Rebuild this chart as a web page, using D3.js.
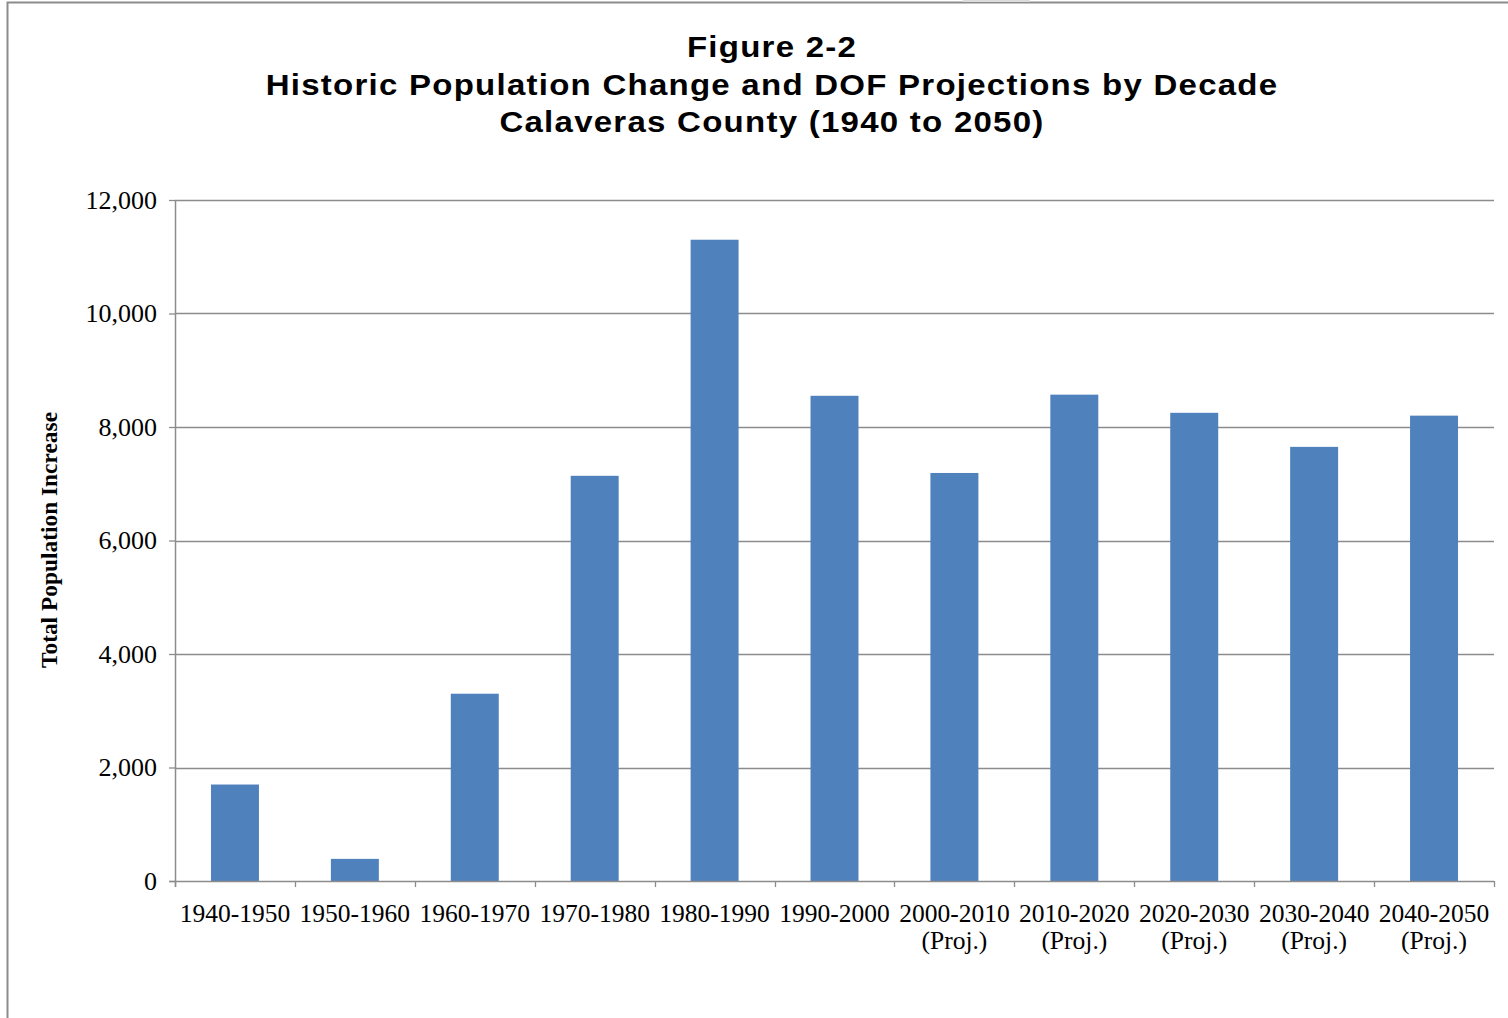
<!DOCTYPE html>
<html>
<head>
<meta charset="utf-8">
<script src="https://cdn.jsdelivr.net/npm/d3@7"></script>
<style>
  body { margin: 0; background: #fff; }
</style>
</head>
<body>
<div id="chart"></div>
<script>
const decades = ["1940-1950", "1950-1960", "1960-1970", "1970-1980", "1980-1990", "1990-2000",
    "2000-2010", "2010-2020", "2020-2030", "2030-2040", "2040-2050"];
const projected = [false, false, false, false, false, false, true, true, true, true, true];
const increase = [1700, 390, 3300, 7140, 11300, 8550, 7190, 8570, 8250, 7650, 8200];
const yTicks = [0, 2000, 4000, 6000, 8000, 10000, 12000];
const titleLines = ["Figure 2-2", "Historic Population Change and DOF Projections by Decade", "Calaveras County (1940 to 2050)"];

const W = 1508, H = 1018;
const margin = { top: 200, right: 14, bottom: 137, left: 175 };
const width = W - margin.left - margin.right;
const height = H - margin.top - margin.bottom;

const root = d3.select("#chart").append("svg")
    .attr("width", W)
    .attr("height", H);

// outer frame
root.append("rect")
    .attr("x", 7.5).attr("y", 2.5)
    .attr("width", W + 20).attr("height", H + 20)
    .attr("fill", "none")
    .attr("stroke", "#8c8c8c")
    .attr("stroke-width", 2);
root.append("rect")
    .attr("x", 963).attr("y", 0)
    .attr("width", 67).attr("height", 2)
    .attr("fill", "#dcdcdc");

// title (the original font is a little stretched horizontally)
root.append("g").selectAll("text")
    .data(titleLines)
    .enter().append("text")
    .attr("transform", (d, i) => `translate(772,${57 + i * 37.5}) scale(1.1,1)`)
    .attr("text-anchor", "middle")
    .style("font-family", "'Liberation Sans', Arial, sans-serif")
    .style("font-weight", "bold")
    .style("font-size", "30px")
    .style("letter-spacing", "1.15px")
    .text(d => d);

const svg = root.append("g")
    .attr("transform", `translate(${margin.left},${margin.top})`);

const x = d3.scaleBand()
    .domain(decades)
    .range([0, width])
    .paddingInner(0.6)
    .paddingOuter(0.3);

const y = d3.scaleLinear()
    .domain([0, 12000])
    .range([height, 0]);

// gridlines
svg.append("g")
    .selectAll("line")
    .data(yTicks.filter(d => d > 0))
    .enter().append("line")
    .attr("x1", 0).attr("x2", width)
    .attr("y1", d => Math.round(y(d)) + 0.5)
    .attr("y2", d => Math.round(y(d)) + 0.5)
    .attr("stroke", "#8c8c8c")
    .attr("stroke-width", 1.3);

// bars
svg.selectAll("rect.bar")
    .data(increase)
    .enter().append("rect")
    .attr("class", "bar")
    .attr("x", (d, i) => x(decades[i]))
    .attr("y", d => y(d))
    .attr("width", x.bandwidth())
    .attr("height", d => height - y(d))
    .attr("fill", "#4f81bd");

// Y axis
const yAxis = svg.append("g")
    .call(d3.axisLeft(y).tickValues(yTicks).tickSize(6).tickPadding(12)
        .tickFormat(d3.format(",")));
yAxis.select(".domain").attr("stroke", "#8c8c8c").attr("stroke-width", 1.5)
    .attr("d", `M0.5,0V${height + 6}`);
yAxis.selectAll(".tick line").attr("stroke", "#8c8c8c").attr("stroke-width", 1.3);
yAxis.selectAll(".tick text")
    .style("font-family", "'Liberation Serif', 'Times New Roman', serif")
    .style("font-size", "26px")
    .attr("fill", "#000");

// X axis: ticks on category boundaries
const xg = svg.append("g").attr("transform", `translate(0,${height})`);
xg.append("line")
    .attr("x1", -6).attr("x2", width)
    .attr("y1", 0.5).attr("y2", 0.5)
    .attr("stroke", "#8c8c8c").attr("stroke-width", 1.5);
const step = x.step();
xg.selectAll("line.tk")
    .data(d3.range(decades.length + 1))
    .enter().append("line")
    .attr("class", "tk")
    .attr("x1", i => Math.round(i * step) + 0.5)
    .attr("x2", i => Math.round(i * step) + 0.5)
    .attr("y1", 0).attr("y2", 6)
    .attr("stroke", "#8c8c8c").attr("stroke-width", 1.3);

const lbl = xg.selectAll("text.lbl")
    .data(decades)
    .enter().append("text")
    .attr("class", "lbl")
    .attr("text-anchor", "middle")
    .attr("transform", d => `translate(${x(d) + x.bandwidth() / 2},0)`)
    .style("font-family", "'Liberation Serif', 'Times New Roman', serif")
    .style("font-size", "25.5px")
    .attr("fill", "#000");
lbl.append("tspan").attr("x", 0).attr("y", 41).text(d => d);
lbl.filter((d, i) => projected[i])
    .append("tspan").attr("x", 0).attr("y", 68).text("(Proj.)");

// Y axis title
root.append("text")
    .attr("transform", "translate(57,540) rotate(-90)")
    .attr("text-anchor", "middle")
    .style("font-family", "'Liberation Serif', 'Times New Roman', serif")
    .style("font-weight", "bold")
    .style("font-size", "23.4px")
    .text("Total Population Increase");
</script>
</body>
</html>
